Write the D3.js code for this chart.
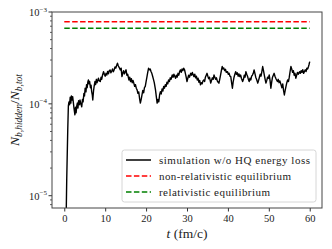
<!DOCTYPE html>
<html>
<head>
<meta charset="utf-8">
<script src="https://cdn.jsdelivr.net/npm/d3@7"></script>
<style>
  body { margin: 0; background: #fff; }
  text { font-family: "Liberation Serif", "DejaVu Serif", serif; fill: #222; }
</style>
</head>
<body>
<svg id="chart" width="332" height="249"></svg>
<script>
// simulation time (fm/c)
var simTime = [0.30, 0.60, 0.85, 1.00, 1.15, 1.30, 1.45, 1.60, 1.75, 1.90, 2.05, 2.20, 2.40, 2.60, 2.75, 2.90,
  3.05, 3.20, 3.35, 3.50, 3.70, 3.85, 4.05, 4.27, 4.45, 4.60, 4.80, 4.95, 5.10, 5.30, 5.45, 5.60, 5.75, 5.90,
  6.05, 6.20, 6.40, 6.55, 6.70, 6.85, 6.97, 7.15, 7.30, 7.50, 7.65, 7.85, 8.00, 8.20, 8.35, 8.55, 8.80, 9.00,
  9.15, 9.35, 9.60, 9.80, 10.0, 10.2, 10.4, 10.6, 10.8, 11.0, 11.2, 11.4, 11.6, 11.8, 12.0, 12.2, 12.4, 12.6,
  12.8, 13.0, 13.2, 13.4, 13.7, 13.9, 14.1, 14.3, 14.5, 14.7, 14.9, 15.1, 15.3, 15.5, 15.8, 16.0, 16.2, 16.4,
  16.6, 16.8, 17.0, 17.2, 17.4, 17.6, 17.8, 18.0, 18.2, 18.4, 18.6, 18.8, 19.0, 19.2, 19.4, 19.6, 19.8, 20.0,
  20.2, 20.4, 20.6, 20.8, 21.0, 21.2, 21.4, 21.6, 21.8, 22.0, 22.3, 22.5, 22.7, 22.9, 23.1, 23.3, 23.5, 23.7,
  23.9, 24.1, 24.3, 24.5, 24.7, 24.9, 25.1, 25.3, 25.5, 25.7, 25.9, 26.1, 26.4, 26.6, 26.8, 27.0, 27.2, 27.4,
  27.6, 27.8, 28.0, 28.2, 28.4, 28.6, 28.8, 29.0, 29.2, 29.4, 29.6, 29.8, 30.0, 30.2, 30.4, 30.6, 30.9, 31.1,
  31.3, 31.5, 31.7, 31.9, 32.1, 32.3, 32.5, 32.7, 32.9, 33.1, 33.3, 33.5, 33.7, 33.9, 34.1, 34.3, 34.5, 34.7,
  34.9, 35.1, 35.3, 35.5, 35.8, 36.0, 36.2, 36.4, 36.6, 36.8, 37.0, 37.2, 37.4, 37.6, 37.8, 38.0, 38.2, 38.4,
  38.6, 38.8, 39.0, 39.2, 39.4, 39.6, 39.9, 40.1, 40.3, 40.5, 40.7, 40.9, 41.1, 41.3, 41.5, 41.7, 41.9, 42.1,
  42.3, 42.5, 42.7, 42.9, 43.1, 43.3, 43.6, 43.8, 44.0, 44.2, 44.4, 44.6, 44.8, 45.0, 45.2, 45.4, 45.6, 45.8,
  46.0, 46.2, 46.4, 46.6, 46.8, 47.0, 47.3, 47.5, 47.7, 47.9, 48.1, 48.3, 48.5, 48.7, 48.9, 49.1, 49.3, 49.5,
  49.7, 49.9, 50.1, 50.3, 50.5, 50.7, 50.9, 51.1, 51.3, 51.5, 51.7, 51.9, 52.1, 52.3, 52.5, 52.7, 53.0, 53.2,
  53.4, 53.6, 53.8, 54.0, 54.2, 54.4, 54.6, 54.8, 55.0, 55.2, 55.4, 55.6, 55.8, 56.0, 56.2, 56.4, 56.6, 56.8,
  57.0, 57.2, 57.5, 57.7, 57.9, 58.1, 58.3, 58.5, 58.7, 58.9, 59.1, 59.3, 59.5, 59.7, 59.85, 60.0];

// N_b,hidden / N_b,tot in units of 1e-4
var simRatioE4 = [0.02, 0.15, 0.52, 0.95, 1.05, 0.98, 1.18, 1.02, 1.22, 1.10, 1.20, 1.05, 0.88, 0.76, 0.92, 0.80,
  0.95, 1.02, 0.90, 1.08, 0.98, 1.10, 1.00, 0.93, 1.12, 1.05, 1.30, 1.22, 1.48, 1.35, 1.62, 1.50, 1.72, 1.82,
  1.65, 1.75, 1.50, 1.60, 1.36, 1.25, 1.10, 1.38, 1.55, 1.75, 1.62, 1.85, 1.70, 1.80, 1.90, 1.78, 1.75, 1.95,
  1.85, 2.05, 2.24, 2.10, 2.00, 2.15, 2.06, 2.25, 2.12, 2.30, 2.34, 2.18, 2.28, 2.40, 2.24, 2.35, 2.52, 2.45,
  2.62, 2.77, 2.60, 2.50, 2.34, 2.45, 1.98, 2.15, 2.30, 2.12, 2.24, 2.35, 2.05, 2.10, 1.82, 1.95, 1.75, 1.88,
  1.70, 1.80, 1.68, 1.55, 1.62, 1.48, 1.42, 1.30, 1.35, 1.15, 1.02, 1.12, 1.25, 1.40, 1.32, 1.50, 1.55, 1.75,
  1.95, 2.20, 2.44, 2.35, 2.40, 2.25, 2.15, 2.00, 1.85, 1.70, 1.42, 1.20, 1.02, 1.12, 1.05, 1.25, 1.36, 1.28,
  1.45, 1.38, 1.55, 1.48, 1.62, 1.55, 1.72, 1.65, 1.82, 1.75, 1.92, 1.85, 2.06, 1.95, 2.10, 2.00, 1.90, 2.05,
  1.95, 2.15, 2.05, 2.25, 2.34, 2.20, 2.40, 2.30, 2.44, 2.35, 2.15, 1.95, 1.75, 1.90, 2.05, 1.95, 2.15, 2.05,
  2.20, 2.08, 1.98, 2.10, 1.92, 2.00, 1.82, 1.90, 1.72, 1.80, 1.61, 1.70, 1.65, 1.78, 1.82, 1.75, 1.95, 2.05,
  2.15, 2.00, 1.88, 1.95, 1.68, 1.80, 1.92, 1.85, 2.06, 1.95, 1.85, 1.92, 1.78, 1.72, 1.68, 1.85, 2.05, 2.30,
  2.55, 2.40, 2.45, 2.30, 2.38, 2.20, 2.24, 2.10, 2.15, 2.00, 1.98, 1.70, 1.48, 1.75, 1.95, 2.10, 2.24, 2.10,
  2.18, 2.00, 2.12, 1.98, 2.06, 1.90, 1.75, 1.85, 2.05, 1.95, 2.24, 2.10, 2.00, 1.85, 1.75, 1.90, 1.82, 2.00,
  2.06, 2.15, 2.34, 2.15, 1.95, 1.85, 1.68, 1.80, 1.95, 2.10, 2.00, 2.25, 2.55, 2.30, 2.05, 1.85, 1.68, 1.80,
  1.95, 1.90, 2.06, 1.80, 1.48, 1.72, 1.95, 2.05, 2.15, 2.00, 1.90, 1.82, 1.75, 1.85, 1.70, 1.78, 1.61, 1.50,
  1.65, 1.40, 1.25, 1.40, 1.55, 1.70, 1.82, 1.75, 1.95, 2.25, 2.55, 2.40, 2.20, 2.30, 2.05, 2.15, 1.90, 2.05,
  2.20, 2.10, 2.24, 2.15, 2.30, 2.20, 2.35, 2.15, 2.24, 2.35, 2.25, 2.44, 2.40, 2.55, 2.70, 2.88];

// equilibrium levels
var eqNames = ["non-relativistic equilibrium", "relativistic equilibrium"];
var eqValues = [7.85e-4, 6.65e-4];
var eqColors = ["#ff0000", "#008000"];
var eqRange = [0, 60];

var xTicks = [0, 10, 20, 30, 40, 50, 60];
var yTicks = [1e-5, 1e-4, 1e-3];

var svg = d3.select("#chart");
var margin = {left: 52, right: 10, top: 12, bottom: 41};
var W = 332, H = 249;

var x = d3.scaleLinear().domain([-3, 63]).range([margin.left, W - margin.right]);
var y = d3.scaleLog().domain([7.35e-6, 1e-3]).range([H - margin.bottom, margin.top]);

svg.append("clipPath").attr("id", "plotclip")
  .append("rect")
  .attr("x", margin.left).attr("y", margin.top)
  .attr("width", W - margin.left - margin.right)
  .attr("height", H - margin.top - margin.bottom);

// equilibrium lines
eqValues.forEach(function (v, i) {
  svg.append("line")
    .attr("x1", x(eqRange[0])).attr("x2", x(eqRange[1]))
    .attr("y1", y(v)).attr("y2", y(v))
    .attr("stroke", eqColors[i]).attr("stroke-width", 1.5)
    .attr("stroke-dasharray", "5.5,2.4");
});

// simulation curve
var line = d3.line()
  .x(function (d) { return x(d[0]); })
  .y(function (d) { return y(d[1] * 1e-4); });

svg.append("path")
  .datum(simTime.map(function (t, i) { return [t, simRatioE4[i]]; }))
  .attr("clip-path", "url(#plotclip)")
  .attr("fill", "none").attr("stroke", "#000").attr("stroke-width", 1.4)
  .attr("stroke-linejoin", "round")
  .attr("d", line);

// axes
var xAxis = d3.axisBottom(x).tickValues(xTicks).tickSize(3.5).tickPadding(3);
var gx = svg.append("g").attr("transform", "translate(0," + (H - margin.bottom) + ")").call(xAxis);
gx.select(".domain").remove();
gx.selectAll("line").attr("stroke", "#333");
gx.selectAll("text").attr("font-size", "10.5px").attr("font-family", "Liberation Serif").attr("fill", "#222");

var minor = [];
[1e-6, 1e-5, 1e-4].forEach(function (dec) {
  for (var k = 2; k <= 9; k++) {
    var v = dec * k;
    if (v >= y.domain()[0] && v <= y.domain()[1]) minor.push(v);
  }
});
svg.selectAll(".ymin").data(minor).enter().append("line")
  .attr("x1", margin.left - 2).attr("x2", margin.left)
  .attr("y1", function (d) { return y(d); }).attr("y2", function (d) { return y(d); })
  .attr("stroke", "#333").attr("stroke-width", 0.8);

svg.selectAll(".ymaj").data(yTicks).enter().append("line")
  .attr("x1", margin.left - 3.5).attr("x2", margin.left)
  .attr("y1", function (d) { return y(d); }).attr("y2", function (d) { return y(d); })
  .attr("stroke", "#333").attr("stroke-width", 1);

var ylab = svg.selectAll(".ylab").data(yTicks).enter().append("text")
  .attr("x", margin.left - 5)
  .attr("y", function (d) { return y(d) + 4; })
  .attr("text-anchor", "end")
  .attr("font-size", "10.5px");
ylab.append("tspan").text("10");
ylab.append("tspan").attr("dy", -4.5).attr("font-size", "7px")
  .text(function (d) { return "\u2212" + Math.round(-Math.log10(d)); });

// frame
svg.append("rect")
  .attr("x", margin.left).attr("y", margin.top)
  .attr("width", W - margin.left - margin.right)
  .attr("height", H - margin.top - margin.bottom)
  .attr("fill", "none").attr("stroke", "#444").attr("stroke-width", 1);

// axis titles
var xt = svg.append("text")
  .attr("x", (x.range()[0] + x.range()[1]) / 2).attr("y", 238)
  .attr("text-anchor", "middle").attr("font-size", "13.5px");
xt.append("tspan").attr("font-style", "italic").text("t");
xt.append("tspan").text(" (fm/c)");

var yt = svg.append("text")
  .attr("transform", "translate(19," + ((margin.top + H - margin.bottom) / 2) + ") rotate(-90)")
  .attr("text-anchor", "middle").attr("font-size", "13.5px");
yt.append("tspan").attr("font-style", "italic").text("N");
yt.append("tspan").attr("font-style", "italic").attr("font-size", "9.5px").attr("dy", 3).text("b,hidden");
yt.append("tspan").attr("dy", -3).text("/");
yt.append("tspan").attr("font-style", "italic").text("N");
yt.append("tspan").attr("font-style", "italic").attr("font-size", "9.5px").attr("dy", 3).text("b,tot");

// legend
var legNames = ["simulation w/o HQ energy loss"].concat(eqNames);
var legColors = ["#000"].concat(eqColors);
var legWidths = [151, 132, 111];
var leg = svg.append("g");
leg.append("rect")
  .attr("x", 122).attr("y", 150).attr("width", 194).attr("height", 52)
  .attr("rx", 2.5).attr("fill", "#fff").attr("fill-opacity", 0.8)
  .attr("stroke", "#d6d6d6").attr("stroke-width", 1);
legNames.forEach(function (name, i) {
  var ly = 160 + i * 16;
  leg.append("line")
    .attr("x1", 126).attr("x2", 151).attr("y1", ly).attr("y2", ly)
    .attr("stroke", legColors[i]).attr("stroke-width", 1.5)
    .attr("stroke-dasharray", i === 0 ? null : "5.5,2.4");
  leg.append("text")
    .attr("x", 159).attr("y", ly + 3.5)
    .attr("font-size", "11px")
    .attr("textLength", legWidths[i]).attr("lengthAdjust", "spacing")
    .text(name);
});
</script>
</body>
</html>
